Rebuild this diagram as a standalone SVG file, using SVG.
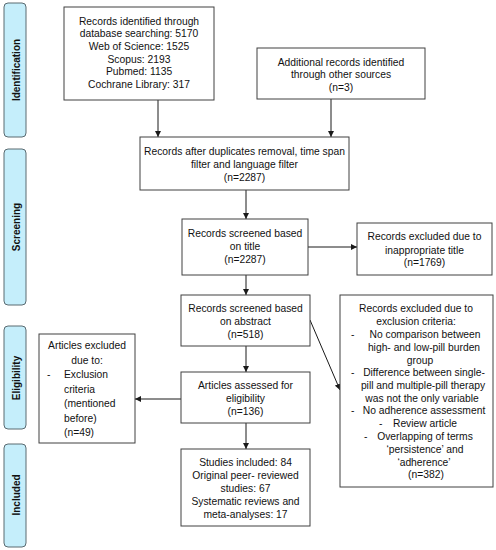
<svg xmlns="http://www.w3.org/2000/svg" width="496" height="550" viewBox="0 0 496 550">
<defs>
<style>
.box{fill:#ffffff;stroke:#404040;stroke-width:1}
.side{fill:#c5eefb;stroke:#5a6a70;stroke-width:1}
.t{font-family:"Liberation Sans",Arial,sans-serif;font-size:10.3px;fill:#111111}
.c{text-anchor:middle}
.st{font-family:"Liberation Sans",Arial,sans-serif;font-size:10px;font-weight:bold;fill:#111;text-anchor:middle}
.ln{stroke:#1a1a1a;stroke-width:1;fill:none;marker-end:url(#ah)}
</style>
<marker id="ah" markerWidth="6" markerHeight="6" refX="6" refY="3" orient="auto" markerUnits="userSpaceOnUse">
<path d="M0,0 L6,3 L0,6 z" fill="#1a1a1a"/>
</marker>
</defs>
<rect width="496" height="550" fill="#ffffff"/>

<g id="phase-identification">
<rect class="side" x="4" y="3" width="22" height="134" rx="4"/>
<text class="st" transform="translate(19.5,70) rotate(-90)">Identification</text>
</g>
<g id="phase-screening">
<rect class="side" x="4" y="149" width="22" height="156" rx="4"/>
<text class="st" transform="translate(19.5,227) rotate(-90)">Screening</text>
</g>
<g id="phase-eligibility">
<rect class="side" x="4" y="326" width="22" height="103" rx="4"/>
<text class="st" transform="translate(19.5,378) rotate(-90)">Eligibility</text>
</g>
<g id="phase-included">
<rect class="side" x="4" y="444" width="22" height="103" rx="4"/>
<text class="st" transform="translate(19.5,495) rotate(-90)">Included</text>
</g>

<g id="connectors">
<line class="ln" x1="158" y1="100" x2="158" y2="137"/>
<line class="ln" x1="331" y1="99" x2="331" y2="137"/>
<line class="ln" x1="246" y1="190" x2="246" y2="219"/>
<line class="ln" x1="308" y1="247" x2="357" y2="247"/>
<line class="ln" x1="246" y1="275" x2="246" y2="295"/>
<line class="ln" x1="310" y1="320" x2="340" y2="390"/>
<line class="ln" x1="246" y1="346" x2="246" y2="372"/>
<line class="ln" x1="181" y1="399" x2="135" y2="399"/>
<line class="ln" x1="246" y1="423" x2="246" y2="449"/>
</g>

<g id="n-records-identified">
<rect class="box" x="64" y="7" width="150" height="93"/>
<text class="t c" x="139" y="24.5">Records identified through</text>
<text class="t c" x="139" y="37.2">database searching: 5170</text>
<text class="t c" x="139" y="49.9">Web of Science: 1525</text>
<text class="t c" x="139" y="62.6">Scopus: 2193</text>
<text class="t c" x="139" y="75.3">Pubmed: 1135</text>
<text class="t c" x="139" y="88">Cochrane Library: 317</text>
</g>

<g id="n-additional">
<rect class="box" x="257" y="48" width="168" height="51"/>
<text class="t c" x="341" y="65.5">Additional records identified</text>
<text class="t c" x="341" y="78.2">through other sources</text>
<text class="t c" x="341" y="90.9">(n=3)</text>
</g>

<g id="n-after-duplicates">
<rect class="box" x="140" y="137" width="209" height="53"/>
<text class="t c" x="244.5" y="154.5">Records after duplicates removal, time span</text>
<text class="t c" x="244.5" y="167.5">filter and language filter</text>
<text class="t c" x="244.5" y="180.5">(n=2287)</text>
</g>

<g id="n-screened-title">
<rect class="box" x="182" y="219" width="126" height="56"/>
<text class="t c" x="245" y="236.5">Records screened based</text>
<text class="t c" x="245" y="249.8">on title</text>
<text class="t c" x="245" y="262.5">(n=2287)</text>
</g>

<g id="n-excluded-title">
<rect class="box" x="357" y="223" width="135" height="52"/>
<text class="t c" x="424.5" y="240.2">Records excluded due to</text>
<text class="t c" x="424.5" y="253.5">inappropriate title</text>
<text class="t c" x="424.5" y="266.2">(n=1769)</text>
</g>

<g id="n-screened-abstract">
<rect class="box" x="181" y="295" width="129" height="51"/>
<text class="t c" x="245.5" y="311.5">Records screened based</text>
<text class="t c" x="245.5" y="324.5">on abstract</text>
<text class="t c" x="245.5" y="337.5">(n=518)</text>
</g>

<g id="n-excluded-criteria">
<rect class="box" x="340" y="295" width="153" height="192"/>
<text class="t c" x="416" y="311.8">Records excluded due to</text>
<text class="t c" x="416" y="324.5">exclusion criteria:</text>
<text class="t" x="351" y="337.8">-</text>
<text class="t c" x="425" y="337.8">No comparison between</text>
<text class="t c" x="424" y="350.8">high- and low-pill burden</text>
<text class="t c" x="420" y="363.5">group</text>
<text class="t" x="351" y="376.2">-</text>
<text class="t c" x="424" y="376.2">Difference between single-</text>
<text class="t c" x="423" y="388.8">pill and multiple-pill therapy</text>
<text class="t c" x="422" y="401.5">was not the only variable</text>
<text class="t" x="351" y="414.2">-</text>
<text class="t c" x="424" y="414.2">No adherence assessment</text>
<text class="t" x="379" y="426.8">-</text>
<text class="t c" x="425" y="426.8">Review article</text>
<text class="t" x="364" y="439.8">-</text>
<text class="t c" x="425" y="439.8">Overlapping of terms</text>
<text class="t c" x="425" y="452.5">‘persistence’ and</text>
<text class="t c" x="424" y="465.5">‘adherence’</text>
<text class="t c" x="426" y="478.2">(n=382)</text>
</g>

<g id="n-assessed-eligibility">
<rect class="box" x="181" y="372" width="129" height="51"/>
<text class="t c" x="245.5" y="389.2">Articles assessed for</text>
<text class="t c" x="245.5" y="402.2">eligibility</text>
<text class="t c" x="245.5" y="415.2">(n=136)</text>
</g>

<g id="n-articles-excluded">
<rect class="box" x="39" y="334" width="96" height="109"/>
<text class="t c" x="87" y="348.5">Articles excluded</text>
<text class="t c" x="87" y="363.5">due to:</text>
<text class="t" x="47" y="378">-</text>
<text class="t" x="64" y="378">Exclusion</text>
<text class="t" x="64" y="392.5">criteria</text>
<text class="t" x="64" y="407">(mentioned</text>
<text class="t" x="64" y="421.5">before)</text>
<text class="t" x="64" y="436">(n=49)</text>
</g>

<g id="n-studies-included">
<rect class="box" x="181" y="449" width="129" height="77"/>
<text class="t c" x="245.5" y="465.8">Studies included: 84</text>
<text class="t c" x="245.5" y="478.8">Original peer- reviewed</text>
<text class="t c" x="245.5" y="491.8">studies: 67</text>
<text class="t c" x="245.5" y="504.8">Systematic reviews and</text>
<text class="t c" x="245.5" y="517.8">meta-analyses: 17</text>
</g>
</svg>
